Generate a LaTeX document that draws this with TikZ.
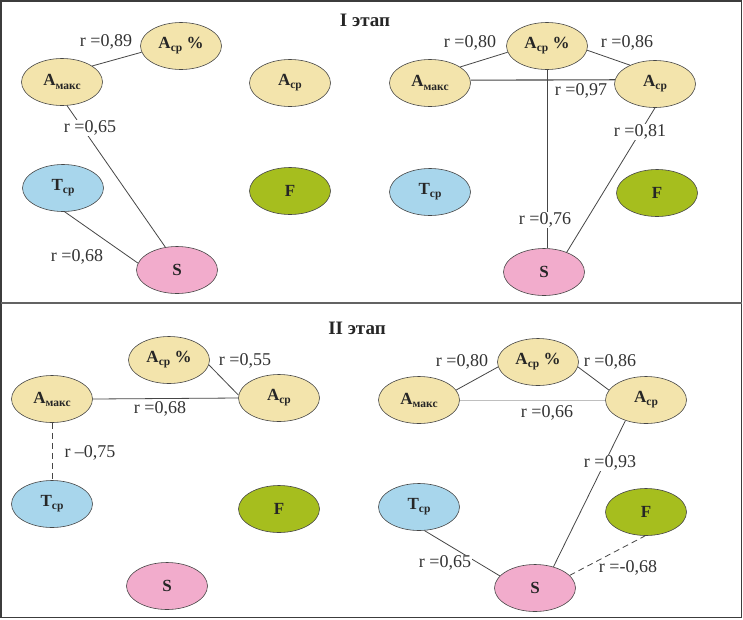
\documentclass[tikz,border=0pt]{standalone}
\usepackage{fontspec}
\setmainfont{Liberation Serif}
\usetikzlibrary{shapes.geometric}
\definecolor{beige}{RGB}{243,228,172}
\definecolor{skyb}{RGB}{168,214,236}
\definecolor{olive}{RGB}{166,190,30}
\definecolor{pinks}{RGB}{242,172,204}
\definecolor{edgegray}{RGB}{70,70,70}
\definecolor{linegray}{RGB}{70,70,70}
\definecolor{labelgray}{RGB}{50,50,50}
\definecolor{framegray}{RGB}{60,60,60}
\newcommand\mysb[1]{\raisebox{-0.4ex}{\fontsize{11.5}{11.5}\selectfont #1}}
\tikzset{
  vnode/.style={ellipse, draw=edgegray, line width=0.6pt, minimum width=81pt, minimum height=47pt, inner sep=0pt, font=\fontsize{17}{17}\selectfont\bfseries, text=black!85},
  bnode/.style={vnode, fill=beige},
  tnode/.style={vnode, fill=skyb},
  fnode/.style={vnode, fill=olive},
  snode/.style={vnode, fill=pinks},
  conn/.style={draw=linegray, line width=0.8pt},
  neg/.style={conn, dash pattern=on 6pt off 4pt},
  lbl/.style={font=\fontsize{18}{18}\selectfont, text=labelgray, inner sep=1pt},
  lblw/.style={lbl, fill=white},
  ttl/.style={font=\fontsize{19}{19}\selectfont\bfseries, text=black!85},
}
\begin{document}
\begin{tikzpicture}[x=1pt,y=-1pt]
\useasboundingbox (0,0) rectangle (743,619);
\fill[white] (0,0) rectangle (743,619);
\draw[framegray, line width=1.5pt] (1,1) rectangle (741.5,617.5);
\draw[framegray!80, line width=1.2pt] (1,303) -- (742,303);

\node[ttl] (t1) at (365,20) {I этап};
\node[ttl] (t2) at (357,328) {II этап};

% Panel I left
\node[bnode] (a1m) at (62,82) {A\mysb{макс}};
\node[bnode] (a1p) at (181,46) {A\mysb{ср} \%};
\node[bnode] (a1c) at (290,83) {A\mysb{ср}};
\node[tnode] (a1t) at (63,188) {T\mysb{ср}};
\node[fnode] (a1f) at (290,191) {F};
\node[snode] (a1s) at (177,270) {S};

% Panel I right
\node[bnode] (b1m) at (430,83) {A\mysb{макс}};
\node[bnode] (b1p) at (547,46) {A\mysb{ср} \%};
\node[bnode] (b1c) at (655,84) {A\mysb{ср}};
\node[tnode] (b1t) at (430,192) {T\mysb{ср}};
\node[fnode] (b1f) at (657,193) {F};
\node[snode] (b1s) at (544,272) {S};

% Panel II left
\node[bnode] (a2m) at (52,399) {A\mysb{макс}};
\node[bnode] (a2p) at (169,360) {A\mysb{ср} \%};
\node[bnode] (a2c) at (279,398) {A\mysb{ср}};
\node[tnode] (a2t) at (52,504) {T\mysb{ср}};
\node[fnode] (a2f) at (279,509) {F};
\node[snode] (a2s) at (167,586) {S};

% Panel II right
\node[bnode] (b2m) at (419,400) {A\mysb{макс}};
\node[bnode] (b2p) at (538,362) {A\mysb{ср} \%};
\node[bnode] (b2c) at (646,400) {A\mysb{ср}};
\node[tnode] (b2t) at (419,507) {T\mysb{ср}};
\node[fnode] (b2f) at (646,512) {F};
\node[snode] (b2s) at (535,588) {S};

% connectors panel I left
\draw[conn] (a1m.28) -- (a1p.189);
\draw[conn] (a1m.-78) -- (a1s.117);
\draw[conn] (a1t.-86) -- (a1s.170);
% connectors panel I right
\draw[conn] (b1m.28) -- (b1p.189);
\draw[conn] (b1p.-6) -- (b1c.143);
\draw[conn, line width=1.1pt] (b1m.4) -- (b1c.174);
\draw[conn] (b1p.south) -- (b1p.south |- b1s.north);
\draw[conn] (b1c.south) -- (b1s.41);
% connectors panel II left
\draw[conn] (a2p.-7) -- (a2c.176);
\draw[conn] (a2m.east) -- (a2c.west);
\draw[neg] (a2m.south) -- (a2t.north);
% connectors panel II right
\draw[conn] (b2m.15) -- (b2p.187);
\draw[conn] (b2p.-7) -- (b2c.165);
\draw[conn, draw=black!25] (b2m.east) -- (b2c.west);
\draw[conn] (b2c.-135) -- (b2s.49);
\draw[conn] (b2t.-77) -- (b2s.161);
\draw[neg] (b2s.20) -- (b2f.-92);

% labels
\node[lbl]  (l1) at (106,42) {r =0,89};
\node[lblw] (l2) at (90,128) {r =0,65};
\node[lbl]  (l3) at (77,257) {r =0,68};
\node[lbl]  (l4) at (470,43) {r =0,80};
\node[lbl]  (l5) at (627,43) {r =0,86};
\node[lbl]  (l6) at (581,91) {r =0,97};
\node[lblw] (l7) at (545,220) {r =0,76};
\node[lblw] (l8) at (640,132) {r =0,81};
\node[lbl]  (l9) at (245,361) {r =0,55};
\node[lbl]  (l10) at (160,409) {r =0,68};
\node[lbl]  (l11) at (90,453) {r –0,75};
\node[lbl]  (l12) at (462,362) {r =0,80};
\node[lbl]  (l13) at (610,362) {r =0,86};
\node[lbl]  (l14) at (547,413) {r =0,66};
\node[lblw] (l15) at (610,463) {r =0,93};
\node[lblw] (l16) at (445,563) {r =0,65};
\node[lbl]  (l17) at (628,568) {r =-0,68};
\end{tikzpicture}
\end{document}
